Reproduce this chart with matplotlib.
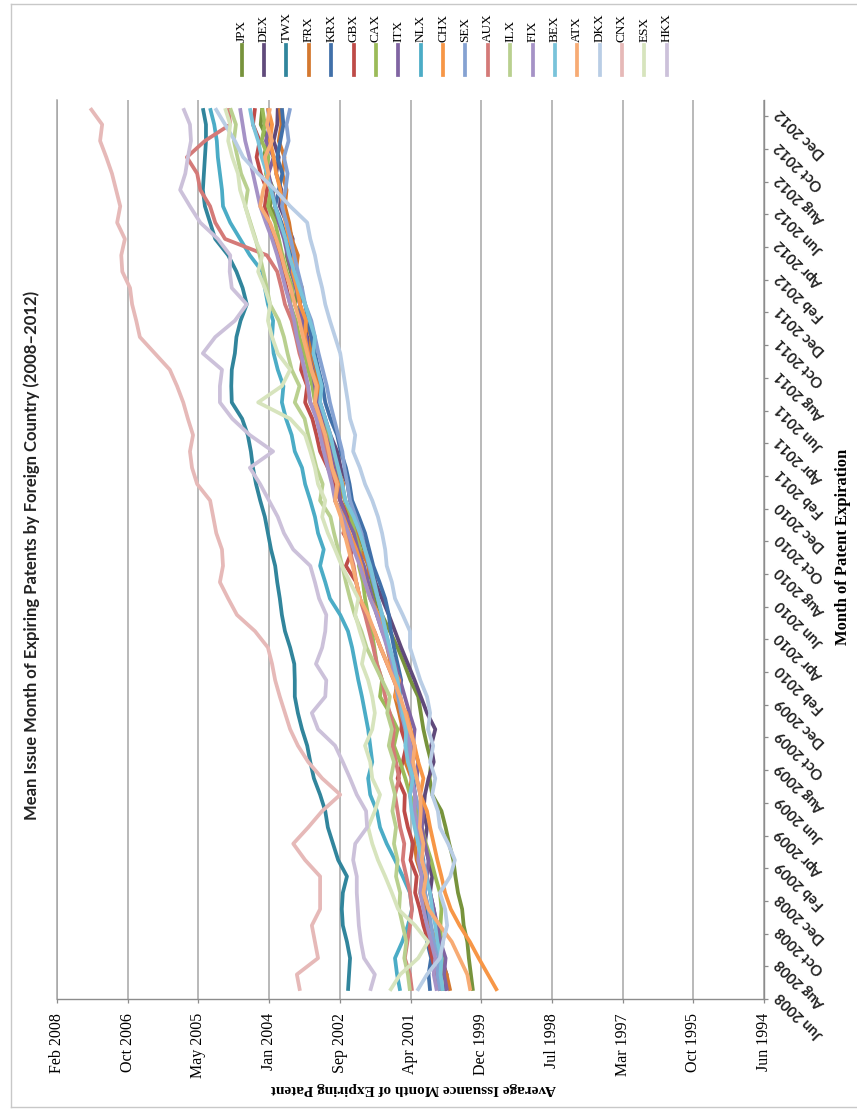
import matplotlib
matplotlib.use("Agg")
import matplotlib.pyplot as plt
from matplotlib.lines import Line2D
import numpy as np

# Expiration months Jun 2008 .. Dec 2012 (one point per month)
n_months = 55
exp_labels = ["Jun 2008", "Aug 2008", "Oct 2008", "Dec 2008",
              "Feb 2009", "Apr 2009", "Jun 2009", "Aug 2009", "Oct 2009", "Dec 2009",
              "Feb 2010", "Apr 2010", "Jun 2010", "Aug 2010", "Oct 2010", "Dec 2010",
              "Feb 2011", "Apr 2011", "Jun 2011", "Aug 2011", "Oct 2011", "Dec 2011",
              "Feb 2012", "Apr 2012", "Jun 2012", "Aug 2012", "Oct 2012", "Dec 2012"]

# Issuance axis (decimal years), Excel date axis with 500-day major unit
issue_labels = ["Jun 1994", "Oct 1995", "Mar 1997", "Jul 1998", "Dec 1999", "Apr 2001",
                "Sep 2002", "Jan 2004", "May 2005", "Oct 2006", "Feb 2008"]

# Mean issue date (decimal year) of patents expiring each month
jpx = [2000.09, 2000.13, 2000.17, 2000.20, 2000.27, 2000.30, 2000.38, 2000.43, 2000.47, 2000.55, 2000.62,
       2000.70, 2000.88, 2000.93, 2000.90, 2000.98, 2001.05, 2001.10, 2001.15, 2001.30, 2001.42, 2001.55,
       2001.70, 2001.85, 2001.99, 2002.05, 2002.12, 2002.20, 2002.30, 2002.45, 2002.57, 2002.62, 2002.70,
       2002.80, 2002.92, 2003.00, 2003.09, 2003.15, 2003.12, 2003.25, 2003.32, 2003.40, 2003.54, 2003.50,
       2003.62, 2003.70, 2003.68, 2003.85, 2004.02, 2003.95, 2004.08, 2004.15, 2004.05, 2004.20, 2004.17]
dex = [2000.63, 2000.60, 2000.70, 2000.68, 2000.80, 2000.85, 2000.92, 2000.88, 2000.95, 2001.02, 2000.98,
       2001.05, 2001.02, 2000.95, 2000.85, 2000.90, 2000.82, 2000.98, 2001.10, 2001.22, 2001.35, 2001.48,
       2001.60, 2001.72, 2001.85, 2001.98, 2002.05, 2002.15, 2002.25, 2002.38, 2002.47, 2002.52, 2002.65,
       2002.72, 2002.85, 2002.95, 2003.05, 2003.10, 2003.18, 2003.22, 2003.30, 2003.38, 2003.44, 2003.50,
       2003.55, 2003.62, 2003.58, 2003.70, 2003.83, 2003.80, 2003.90, 2003.85, 2003.95, 2003.88, 2003.87]
twx = [2002.51, 2002.49, 2002.47, 2002.53, 2002.61, 2002.63, 2002.61, 2002.53, 2002.70, 2002.80, 2002.90,
       2002.95, 2003.05, 2003.17, 2003.24, 2003.30, 2003.40, 2003.48, 2003.54, 2003.54, 2003.55, 2003.63,
       2003.73, 2003.79, 2003.83, 2003.88, 2003.92, 2004.00, 2004.06, 2004.12, 2004.21, 2004.29, 2004.35,
       2004.39, 2004.45, 2004.56, 2004.76, 2004.77, 2004.76, 2004.70, 2004.67, 2004.59, 2004.47, 2004.55,
       2004.67, 2004.83, 2005.08, 2005.18, 2005.28, 2005.32, 2005.30, 2005.28, 2005.26, 2005.26, 2005.32]
frx = [2000.53, 2000.60, 2000.72, 2000.80, 2000.92, 2001.02, 2001.11, 2001.08, 2001.18, 2001.22, 2001.15,
       2001.25, 2001.31, 2001.28, 2001.40, 2001.36, 2001.45, 2001.52, 2001.60, 2001.55, 2001.68, 2001.75,
       2001.82, 2001.95, 2002.04, 2002.15, 2002.10, 2002.28, 2002.35, 2002.50, 2002.66, 2002.60, 2002.72,
       2002.85, 2002.92, 2003.02, 2003.09, 2003.05, 2003.18, 2003.25, 2003.22, 2003.35, 2003.44, 2003.40,
       2003.52, 2003.48, 2003.60, 2003.65, 2003.73, 2003.70, 2003.78, 2003.74, 2003.85, 2003.80, 2003.83]
krx = [2000.92, 2000.95, 2000.90, 2000.98, 2001.00, 2000.96, 2001.02, 2001.08, 2001.05, 2001.12, 2001.18,
       2001.15, 2001.21, 2001.25, 2001.32, 2001.28, 2001.38, 2001.45, 2001.50, 2001.48, 2001.55, 2001.62,
       2001.68, 2001.72, 2001.79, 2001.90, 2002.02, 2002.10, 2002.18, 2002.30, 2002.43, 2002.48, 2002.55,
       2002.65, 2002.72, 2002.85, 2002.95, 2003.00, 2003.08, 2003.15, 2003.22, 2003.28, 2003.34, 2003.45,
       2003.55, 2003.62, 2003.70, 2003.80, 2003.92, 2003.85, 2003.78, 2003.88, 2003.82, 2003.76, 2003.79]
gbx = [2000.73, 2000.80, 2000.88, 2000.95, 2001.05, 2001.12, 2001.21, 2001.18, 2001.30, 2001.25, 2001.35,
       2001.42, 2001.41, 2001.55, 2001.45, 2001.38, 2001.48, 2001.44, 2001.50, 2001.62, 2001.75, 2001.88,
       2002.00, 2002.15, 2002.28, 2002.35, 2002.55, 2002.42, 2002.60, 2002.52, 2002.66, 2002.78, 2002.90,
       2003.05, 2003.12, 2003.20, 2003.34, 2003.30, 2003.42, 2003.38, 2003.50, 2003.55, 2003.63, 2003.70,
       2003.78, 2003.85, 2003.95, 2004.05, 2004.12, 2004.08, 2004.20, 2004.28, 2004.22, 2004.35, 2004.31]
cax = [2000.69, 2000.70, 2000.68, 2000.71, 2000.72, 2000.70, 2000.73, 2000.82, 2000.90, 2001.00, 2001.08,
       2001.18, 2001.31, 2001.40, 2001.50, 2001.62, 2001.55, 2001.70, 2001.89, 2001.85, 2001.95, 2002.00,
       2002.05, 2002.12, 2002.18, 2002.22, 2002.30, 2002.28, 2002.38, 2002.45, 2002.56, 2002.65, 2002.72,
       2002.80, 2002.90, 2003.02, 2003.15, 2003.20, 2003.28, 2003.35, 2003.45, 2003.52, 2003.63, 2003.58,
       2003.70, 2003.78, 2003.85, 2003.92, 2004.06, 2004.00, 2004.10, 2004.05, 2004.18, 2004.12, 2004.17]
itx = [2000.59, 2000.65, 2000.62, 2000.72, 2000.78, 2000.85, 2000.92, 2000.98, 2000.95, 2001.02, 2001.08,
       2001.05, 2001.11, 2001.18, 2001.15, 2001.25, 2001.22, 2001.32, 2001.41, 2001.50, 2001.60, 2001.72,
       2001.85, 2001.95, 2002.04, 2002.12, 2002.20, 2002.32, 2002.40, 2002.55, 2002.66, 2002.70, 2002.78,
       2002.85, 2002.95, 2003.02, 2003.09, 2003.15, 2003.20, 2003.28, 2003.32, 2003.40, 2003.44, 2003.52,
       2003.60, 2003.68, 2003.75, 2003.85, 2003.92, 2003.98, 2004.05, 2003.95, 2004.10, 2004.02, 2004.06]
nlx = [2001.50, 2001.56, 2001.60, 2001.46, 2001.35, 2001.27, 2001.31, 2001.45, 2001.60, 2001.76, 2001.89,
       2001.95, 2002.08, 2002.12, 2002.04, 2002.08, 2002.12, 2002.18, 2002.24, 2002.31, 2002.37, 2002.43,
       2002.51, 2002.66, 2002.86, 2002.95, 2003.05, 2002.98, 2003.09, 2003.15, 2003.24, 2003.34, 2003.40,
       2003.54, 2003.60, 2003.71, 2003.79, 2003.76, 2003.87, 2003.95, 2003.98, 2003.96, 2004.06, 2004.12,
       2004.17, 2004.41, 2004.60, 2004.79, 2004.93, 2004.95, 2004.99, 2005.03, 2005.05, 2005.10, 2005.18]
chx = [1999.62, 1999.80, 1999.98, 2000.15, 2000.35, 2000.52, 2000.63, 2000.70, 2000.78, 2000.85, 2000.92,
       2000.98, 2001.11, 2001.05, 2001.15, 2001.22, 2001.30, 2001.38, 2001.60, 2001.52, 2001.68, 2001.72,
       2001.80, 2001.92, 2002.08, 2002.18, 2002.25, 2002.35, 2002.48, 2002.60, 2002.76, 2002.70, 2002.82,
       2002.90, 2002.98, 2003.05, 2003.15, 2003.10, 2003.22, 2003.28, 2003.35, 2003.32, 2003.44, 2003.50,
       2003.58, 2003.55, 2003.65, 2003.72, 2003.77, 2003.82, 2003.90, 2003.95, 2004.02, 2003.98, 2004.06]
sex = [2000.73, 2000.78, 2000.75, 2000.85, 2000.90, 2000.95, 2001.02, 2000.98, 2001.06, 2001.10, 2001.15,
       2001.12, 2001.21, 2001.28, 2001.25, 2001.35, 2001.40, 2001.48, 2001.54, 2001.60, 2001.65, 2001.72,
       2001.78, 2001.85, 2001.93, 2002.02, 2002.10, 2002.18, 2002.25, 2002.36, 2002.47, 2002.52, 2002.58,
       2002.62, 2002.70, 2002.78, 2002.86, 2002.92, 2003.00, 2003.08, 2003.15, 2003.22, 2003.34, 2003.40,
       2003.48, 2003.55, 2003.62, 2003.70, 2003.79, 2003.72, 2003.68, 2003.75, 2003.66, 2003.70, 2003.63]
aux = [2001.27, 2001.31, 2001.41, 2001.36, 2001.31, 2001.27, 2001.31, 2001.38, 2001.45, 2001.42, 2001.50,
       2001.55, 2001.60, 2001.52, 2001.58, 2001.65, 2001.62, 2001.70, 2001.79, 2001.85, 2001.95, 2002.02,
       2002.10, 2002.18, 2002.28, 2002.35, 2002.40, 2002.48, 2002.55, 2002.62, 2002.76, 2002.72, 2002.85,
       2002.92, 2003.00, 2003.10, 2003.24, 2003.30, 2003.35, 2003.45, 2003.52, 2003.60, 2003.73, 2003.80,
       2003.88, 2004.08, 2004.89, 2005.08, 2005.18, 2005.37, 2005.43, 2005.63, 2005.28, 2004.79, 2004.83]
ilx = [2001.31, 2001.35, 2001.42, 2001.38, 2001.45, 2001.52, 2001.50, 2001.58, 2001.55, 2001.62, 2001.58,
       2001.65, 2001.60, 2001.68, 2001.62, 2001.72, 2001.66, 2001.75, 2001.70, 2001.85, 2002.00, 2002.15,
       2002.25, 2002.38, 2002.47, 2002.55, 2002.62, 2002.70, 2002.78, 2002.85, 2003.05, 2003.00, 2003.12,
       2003.20, 2003.28, 2003.35, 2003.54, 2003.45, 2003.60, 2003.68, 2003.75, 2003.85, 2004.02, 2004.08,
       2004.15, 2004.22, 2004.30, 2004.40, 2004.50, 2004.45, 2004.58, 2004.65, 2004.72, 2004.68, 2004.79]
fix = [2000.79, 2000.85, 2000.82, 2000.90, 2000.98, 2001.05, 2001.11, 2001.08, 2001.15, 2001.12, 2001.18,
       2001.22, 2001.21, 2001.28, 2001.32, 2001.30, 2001.38, 2001.45, 2001.50, 2001.58, 2001.65, 2001.75,
       2001.85, 2001.95, 2002.08, 2002.18, 2002.28, 2002.40, 2002.50, 2002.62, 2002.76, 2002.82, 2002.90,
       2002.98, 2003.05, 2003.12, 2003.24, 2003.28, 2003.35, 2003.42, 2003.50, 2003.55, 2003.63, 2003.72,
       2003.80, 2003.88, 2003.98, 2004.10, 2004.21, 2004.28, 2004.35, 2004.42, 2004.50, 2004.55, 2004.60]
bex = [2000.67, 2000.72, 2000.70, 2000.78, 2000.82, 2000.88, 2000.92, 2001.00, 2001.08, 2001.15, 2001.22,
       2001.28, 2001.31, 2001.25, 2001.35, 2001.40, 2001.38, 2001.45, 2001.50, 2001.55, 2001.62, 2001.70,
       2001.78, 2001.85, 2001.93, 2002.00, 2002.08, 2002.18, 2002.28, 2002.40, 2002.56, 2002.62, 2002.70,
       2002.78, 2002.85, 2002.95, 2003.05, 2003.02, 2003.10, 2003.18, 2003.15, 2003.25, 2003.34, 2003.45,
       2003.55, 2003.65, 2003.72, 2003.82, 2003.92, 2004.00, 2004.08, 2004.18, 2004.25, 2004.35, 2004.41]
atx = [2000.14, 2000.20, 2000.35, 2000.50, 2000.73, 2000.95, 2001.05, 2001.00, 2001.08, 2001.05, 2001.12,
       2001.10, 2001.11, 2001.18, 2001.25, 2001.22, 2001.32, 2001.40, 2001.50, 2001.62, 2001.75, 2001.88,
       2002.00, 2002.12, 2002.28, 2002.35, 2002.42, 2002.50, 2002.58, 2002.65, 2002.76, 2002.72, 2002.82,
       2002.88, 2002.95, 2003.05, 2003.15, 2003.12, 2003.22, 2003.30, 2003.38, 2003.45, 2003.54, 2003.62,
       2003.72, 2003.80, 2003.90, 2004.02, 2004.21, 2004.15, 2004.05, 2004.12, 2003.98, 2004.08, 2004.02]
dkx = [2001.17, 2000.98, 2000.73, 2000.67, 2000.59, 2000.63, 2000.73, 2000.53, 2000.44, 2000.57, 2000.73,
       2000.77, 2000.88, 2000.82, 2000.92, 2000.86, 2000.96, 2000.92, 2000.98, 2001.11, 2001.21, 2001.31,
       2001.31, 2001.45, 2001.60, 2001.66, 2001.76, 2001.79, 2001.85, 2001.93, 2002.04, 2002.18, 2002.28,
       2002.41, 2002.37, 2002.47, 2002.51, 2002.56, 2002.61, 2002.66, 2002.76, 2002.86, 2002.95, 2003.01,
       2003.09, 2003.15, 2003.24, 2003.30, 2003.63, 2003.92, 2004.25, 2004.54, 2004.70, 2004.89, 2005.08]
cnx = [2003.44, 2003.50, 2003.09, 2003.15, 2003.21, 2003.05, 2003.05, 2003.05, 2003.34, 2003.57, 2003.28,
       2003.01, 2002.66, 2003.01, 2003.28, 2003.48, 2003.63, 2003.73, 2003.83, 2003.92, 2003.98, 2004.06,
       2004.31, 2004.66, 2004.83, 2004.99, 2004.93, 2004.95, 2005.06, 2005.12, 2005.18, 2005.43, 2005.53,
       2005.57, 2005.51, 2005.61, 2005.70, 2005.82, 2005.96, 2006.25, 2006.54, 2006.61, 2006.69, 2006.73,
       2006.88, 2006.90, 2006.83, 2006.98, 2006.92, 2007.00, 2007.08, 2007.19, 2007.31, 2007.27, 2007.50]
esx = [2001.70, 2001.50, 2001.15, 2000.96, 2001.21, 2001.54, 2001.66, 2001.79, 2001.93, 2002.04, 2002.12,
       2001.99, 2001.89, 2002.04, 2002.08, 2002.18, 2002.04, 2001.99, 2002.04, 2002.12, 2002.24, 2002.18,
       2002.28, 2002.37, 2002.31, 2002.47, 2002.63, 2002.76, 2002.90, 2003.01, 2002.95, 2003.09, 2003.15,
       2003.24, 2003.34, 2003.63, 2004.25, 2003.79, 2003.63, 2003.87, 2003.98, 2004.06, 2004.02, 2004.12,
       2004.25, 2004.17, 2004.31, 2004.41, 2004.50, 2004.60, 2004.64, 2004.75, 2004.83, 2004.79, 2004.89]
hkx = [2002.08, 2001.99, 2002.20, 2002.26, 2002.30, 2002.32, 2002.34, 2002.34, 2002.41, 2002.37, 2002.14,
       2002.16, 2002.34, 2002.47, 2002.61, 2002.76, 2003.09, 2003.21, 2002.95, 2002.93, 2003.13, 2003.01,
       2002.95, 2002.93, 2003.07, 2003.15, 2003.24, 2003.57, 2003.75, 2003.87, 2004.04, 2004.21, 2004.41,
       2003.96, 2004.41, 2004.75, 2004.99, 2004.99, 2004.95, 2005.32, 2005.08, 2004.70, 2004.47, 2004.76,
       2004.80, 2004.79, 2005.03, 2005.37, 2005.57, 2005.76, 2005.66, 2005.61, 2005.55, 2005.57, 2005.70]

countries = ["JPX", "DEX", "TWX", "FRX", "KRX", "GBX", "CAX", "ITX", "NLX", "CHX",
             "SEX", "AUX", "ILX", "FIX", "BEX", "ATX", "DKX", "CNX", "ESX", "HKX"]
series = [jpx, dex, twx, frx, krx, gbx, cax, itx, nlx, chx,
          sex, aux, ilx, fix, bex, atx, dkx, cnx, esx, hkx]
colors = ["#77933c", "#604a7b", "#31859c", "#d4782f", "#4170a9", "#be4b48", "#9bbb59", "#8064a2",
          "#4bacc6", "#f79646", "#85a2d2", "#d47a78", "#b9d08f", "#a592c6", "#79c3da", "#f7ab74",
          "#b9cde5", "#e6b9b8", "#d7e4bd", "#ccc1da"]

W, H = 857, 1109
fig = plt.figure(figsize=(W / 100, H / 100), dpi=100)

def fx(px):
    return px / W

def fy(py):
    return 1 - py / H

# plot area (the whole chart is laid out turned a quarter turn)
ax = fig.add_axes([fx(57), fy(999), (764 - 57) / W, (999 - 100) / H])

month_idx = np.arange(n_months)
for vals, col in zip(series, colors):
    ax.plot(vals, month_idx, color=col, lw=2.7, solid_joinstyle="round", solid_capstyle="butt")

# issuance axis: newest on the left
issue_start = 1994.455
issue_ticks = issue_start + np.arange(len(issue_labels)) * 500 / 365.25
ax.set_xlim(issue_ticks[-1], issue_ticks[0])
ax.set_xticks(issue_ticks)
ax.set_xticklabels(issue_labels, rotation=90, fontsize=11.5, family="Liberation Serif")
ax.tick_params(axis="x", length=3, width=0.9, color="#8c8c8c", pad=7)
ax.grid(axis="x", color="#a6a6a6", lw=1.1)
ax.set_axisbelow(True)

# expiration axis on the right, ticks between every other month
ax.set_ylim(-0.5, n_months - 0.5)
ax.yaxis.tick_right()
ax.set_yticks(np.arange(-0.5, n_months - 1, 2))
ax.set_yticklabels([])
ax.tick_params(axis="y", length=3, width=0.9, color="#8c8c8c")
for j, lab in enumerate(exp_labels):
    ax.text(1.02, 2 * j - 0.2, lab, transform=ax.get_yaxis_transform(), rotation=135,
            rotation_mode="anchor", ha="right", va="center",
            fontsize=10.5, fontweight="bold", family="Lato", color="#222222")

ax.spines["top"].set_visible(False)
ax.spines["left"].set_color("#a6a6a6")
ax.spines["left"].set_linewidth(1.1)
for side in ["bottom", "right"]:
    ax.spines[side].set_color("#8c8c8c")
    ax.spines[side].set_linewidth(1.0)

# titles
fig.text(fx(32), fy(555), "Mean Issue Month of Expiring Patents by Foreign Country (2008\u20132012)",
         rotation=90, ha="center", va="center", fontsize=12, fontweight="bold", family="Lato",
         color="#222222")
fig.text(fx(413), fy(1088), "Average Issuance Month of Expiring Patent", rotation=180,
         ha="center", va="center", fontsize=11, fontweight="bold", family="Liberation Serif")
fig.text(fx(843), fy(547), "Month of Patent Expiration", rotation=90,
         ha="center", va="center", fontsize=12, fontweight="bold", family="Liberation Serif")

# legend row along the top
for k, (name, col) in enumerate(zip(countries, colors)):
    x = fx(241.7 + 22.37 * k)
    fig.add_artist(Line2D([x, x], [fy(45), fy(75)], color=col, lw=2.7))
    fig.text(x, fy(42), name, rotation=90, ha="center", va="bottom",
             fontsize=9.5, family="Liberation Serif")

# chart border
for xs, ys in [([fx(11), fx(11)], [fy(4), fy(1107)]),
               ([fx(11), 1.0], [fy(4), fy(4)]),
               ([fx(11), 1.0], [fy(1107), fy(1107)])]:
    fig.add_artist(Line2D(xs, ys, color="#c8c8c8", lw=1.0))

fig.savefig("out.png", dpi=100)
